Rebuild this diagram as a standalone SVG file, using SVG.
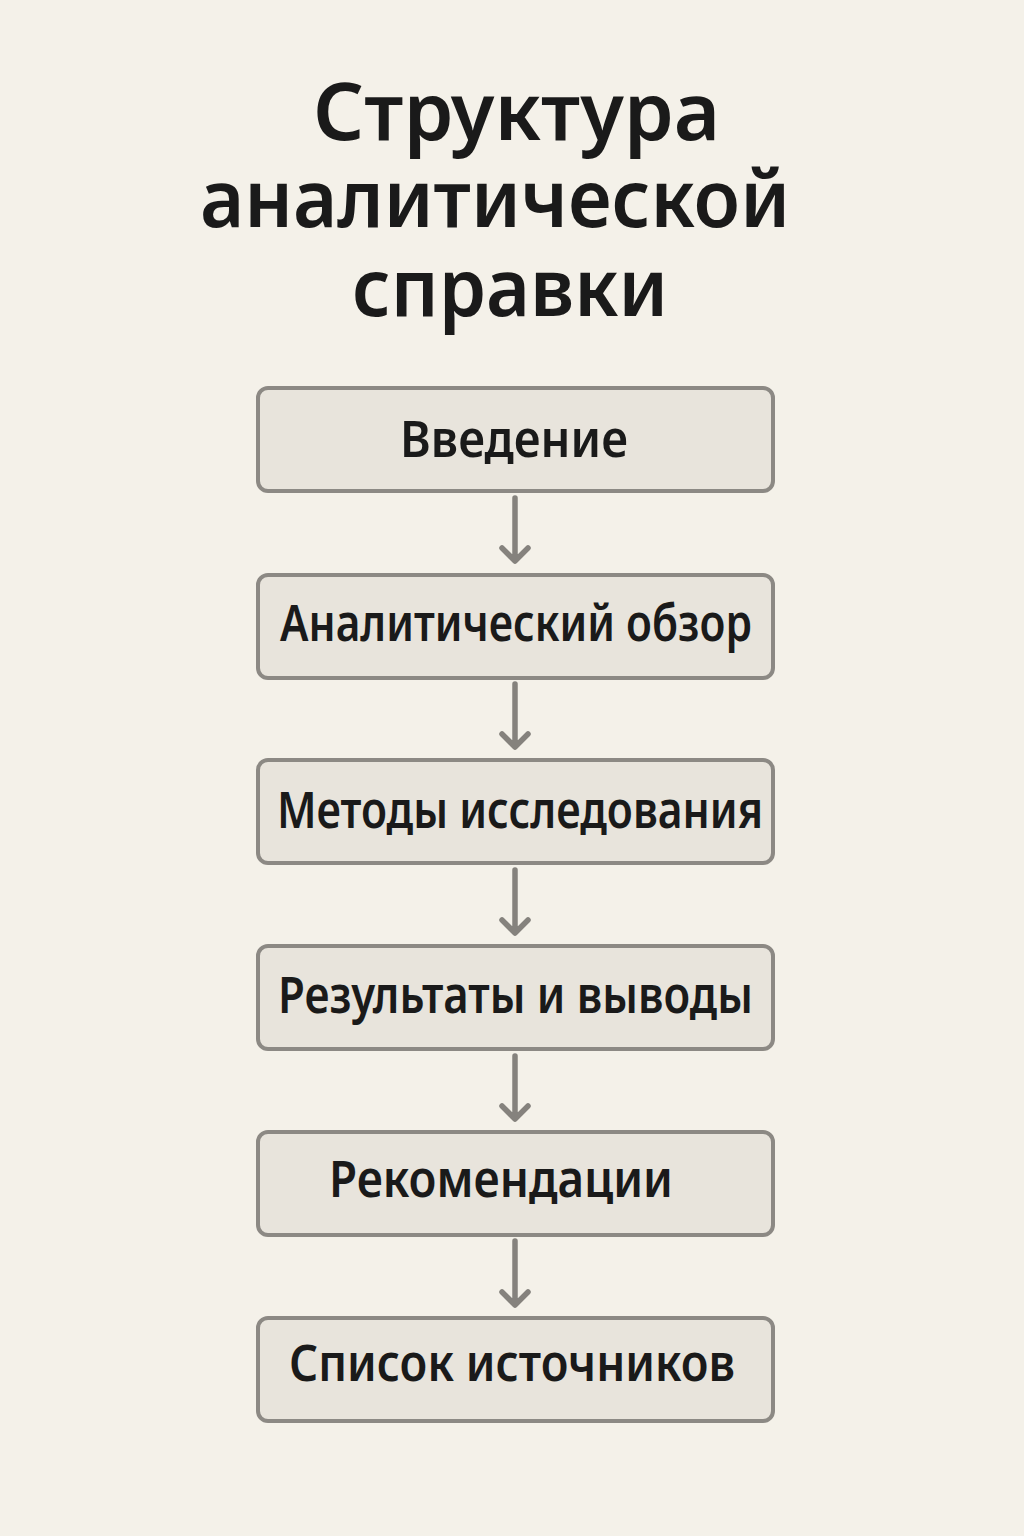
<svg xmlns="http://www.w3.org/2000/svg" width="1024" height="1536" viewBox="0 0 1024 1536">
<style>
.bg{fill:#f4f1e9}
.box{fill:#e8e4dc;stroke:#8c8984;stroke-width:4}
.lbl{font-family:"Noto Sans","Open Sans",sans-serif;font-weight:600;font-size:50px;fill:#1a1a1a;text-anchor:middle}
.title{font-family:"Noto Sans","Open Sans",sans-serif;font-weight:600;font-size:80px;fill:#1a1a1a;text-anchor:middle}
.con{stroke:#85827d;stroke-width:5.5;fill:none;stroke-linecap:round;stroke-linejoin:round}
</style>
<rect class="bg" width="1024" height="1536"/>
<g id="title">
<text class="title" x="516.5" y="140" textLength="407" lengthAdjust="spacingAndGlyphs">Структура</text>
<text class="title" x="495" y="227" textLength="590" lengthAdjust="spacingAndGlyphs">аналитической</text>
<text class="title" x="510" y="316" textLength="316" lengthAdjust="spacingAndGlyphs">справки</text>
</g>
<g id="connectors">
<path class="con" d="M515 498V560M502 548L515 561L528 548"/>
<path class="con" d="M515 684V746M502 734L515 747L528 734"/>
<path class="con" d="M515 870V932M502 920L515 933L528 920"/>
<path class="con" d="M515 1056V1118M502 1106L515 1119L528 1106"/>
<path class="con" d="M515 1241V1304M502 1292L515 1305L528 1292"/>
</g>
<g id="n1"><rect class="box" x="258" y="388" width="515" height="103" rx="10"/><text class="lbl" x="514" y="457" textLength="228" lengthAdjust="spacingAndGlyphs">Введение</text></g>
<g id="n2"><rect class="box" x="258" y="575" width="515" height="103" rx="10"/><text class="lbl" x="516" y="641" textLength="472" lengthAdjust="spacingAndGlyphs">Аналитический обзор</text></g>
<g id="n3"><rect class="box" x="258" y="760" width="515" height="103" rx="10"/><text class="lbl" x="520" y="828" textLength="486" lengthAdjust="spacingAndGlyphs">Методы исследования</text></g>
<g id="n4"><rect class="box" x="258" y="946" width="515" height="103" rx="10"/><text class="lbl" x="515.5" y="1013" textLength="475" lengthAdjust="spacingAndGlyphs">Результаты и выводы</text></g>
<g id="n5"><rect class="box" x="258" y="1132" width="515" height="103" rx="10"/><text class="lbl" x="501" y="1197" textLength="344" lengthAdjust="spacingAndGlyphs">Рекомендации</text></g>
<g id="n6"><rect class="box" x="258" y="1318" width="515" height="103" rx="10"/><text class="lbl" x="512" y="1381" textLength="446" lengthAdjust="spacingAndGlyphs">Список источников</text></g>
</svg>
